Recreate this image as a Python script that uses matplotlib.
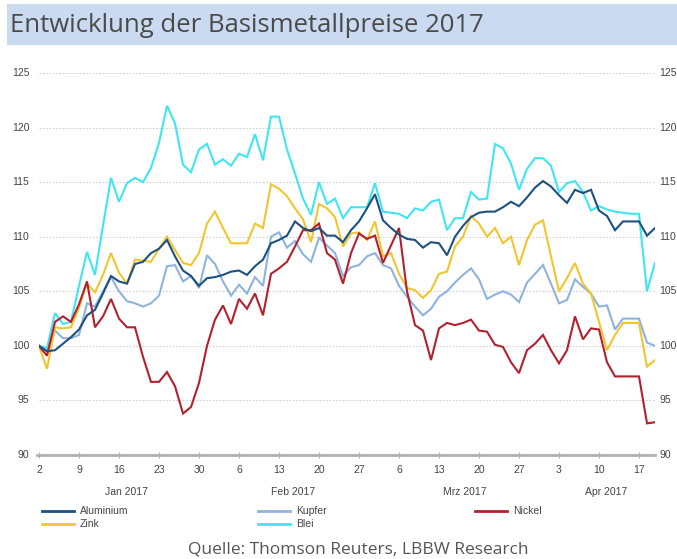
import matplotlib
matplotlib.use("Agg")
import matplotlib.pyplot as plt
from matplotlib.patches import Rectangle
from matplotlib.lines import Line2D
import matplotlib.transforms as mtransforms

# ---- data (index values, trading days from 2 Jan 2017) ----
aluminium = [100.0, 99.5, 99.6, 100.2, 100.8, 101.5, 102.8, 103.3, 104.8, 106.4,
             105.9, 105.7, 107.5, 107.7, 108.5, 108.9, 109.7, 108.2, 106.9, 106.4,
             105.5, 106.2, 106.3, 106.5, 106.8, 106.9, 106.5, 107.3, 107.9, 109.4,
             109.7, 110.1, 111.4, 110.8, 110.5, 110.8, 110.1, 110.1, 109.5, 110.6,
             111.4, 112.6, 113.9, 111.5, 110.8, 110.2, 109.8, 109.7, 109.0, 109.5,
             109.4, 108.3, 110.0, 111.0, 111.8, 112.2, 112.3, 112.3, 112.7, 113.2,
             112.8, 113.6, 114.5, 115.1, 114.6, 113.8, 113.1, 114.3, 114.0, 114.3,
             112.4, 111.9, 110.6, 111.4, 111.4, 111.4, 110.1, 110.8]
kupfer = [100.0, 99.6, 101.4, 100.7, 100.7, 101.0, 103.9, 103.6, 105.0, 106.3,
          105.0, 104.1, 103.9, 103.6, 103.9, 104.6, 107.3, 107.4, 105.9, 106.4,
          105.3, 108.3, 107.5, 105.9, 104.6, 105.6, 104.8, 106.3, 105.5, 110.0,
          110.4, 109.0, 109.6, 108.4, 107.7, 109.9, 109.2, 108.5, 106.4, 107.2,
          107.4, 108.2, 108.5, 107.4, 107.1, 105.5, 104.5, 103.6, 102.8, 103.4,
          104.5, 105.0, 105.8, 106.5, 107.1, 106.1, 104.3, 104.7, 105.0, 104.7,
          104.0, 105.8, 106.6, 107.4, 105.7, 103.9, 104.2, 106.1, 105.4, 104.8,
          103.6, 103.7, 101.5, 102.5, 102.5, 102.5, 100.3, 100.0]
nickel = [100.0, 99.1, 102.2, 102.7, 102.2, 103.8, 105.9, 101.7, 102.7, 104.3,
          102.5, 101.7, 101.7, 99.0, 96.7, 96.7, 97.6, 96.3, 93.8, 94.4,
          96.6, 100.0, 102.4, 103.7, 102.0, 104.3, 103.4, 104.8, 102.8, 106.6,
          107.1, 107.7, 109.1, 110.6, 110.6, 111.2, 108.5, 107.9, 105.7, 108.5,
          110.3, 109.8, 110.1, 107.6, 109.2, 110.8, 105.0, 101.9, 101.4, 98.7,
          101.6, 102.1, 101.9, 102.1, 102.4, 101.4, 101.3, 100.1, 99.9, 98.5,
          97.5, 99.6, 100.2, 101.0, 99.6, 98.4, 99.6, 102.7, 100.6, 101.6,
          101.5, 98.5, 97.2, 97.2, 97.2, 97.2, 92.9, 93.0]
zink = [100.0, 97.9, 101.7, 101.6, 101.7, 103.5, 105.7, 104.9, 106.5, 108.5,
        106.7, 105.7, 107.9, 107.8, 107.7, 108.9, 110.0, 108.8, 107.6, 107.4,
        108.5, 111.2, 112.3, 110.8, 109.4, 109.4, 109.4, 111.2, 110.8, 114.8,
        114.4, 113.7, 112.6, 111.6, 109.5, 113.0, 112.6, 111.8, 109.1, 110.3,
        110.4, 109.7, 111.4, 108.2, 108.5, 106.6, 105.3, 105.1, 104.4, 105.1,
        106.6, 106.8, 109.1, 110.0, 111.9, 111.2, 110.0, 110.8, 109.4, 110.0,
        107.4, 109.7, 111.1, 111.5, 108.2, 105.0, 106.2, 107.6, 105.7, 104.8,
        102.2, 99.6, 101.0, 102.1, 102.1, 102.1, 98.1, 98.7]
blei = [100.0, 99.8, 103.0, 102.0, 102.2, 105.5, 108.6, 106.5, 111.0, 115.4,
        113.2, 114.9, 115.4, 115.0, 116.3, 118.6, 122.0, 120.4, 116.6, 115.9,
        118.0, 118.5, 116.6, 117.1, 116.5, 117.6, 117.3, 119.4, 117.0, 121.0,
        121.0, 118.0, 115.8, 113.5, 112.0, 115.0, 113.0, 113.5, 111.7, 112.7,
        112.7, 112.7, 114.9, 112.3, 112.2, 112.1, 111.7, 112.6, 112.4, 113.2,
        113.4, 110.6, 111.7, 111.7, 114.1, 113.4, 113.5, 118.5, 118.1, 116.7,
        114.3, 116.2, 117.2, 117.2, 116.5, 114.1, 114.9, 115.1, 114.1, 112.4,
        112.8, 112.5, 112.3, 112.2, 112.1, 112.1, 105.0, 107.6]

tick_pos = [0, 5, 10, 15, 20, 25, 30, 35, 40, 45, 50, 55, 60, 65, 70, 75]
tick_labels = ["2", "9", "16", "23", "30", "6", "13", "20", "27",
               "6", "13", "20", "27", "3", "10", "17"]
month_labels = ["Jan 2017", "Feb 2017", "Mrz 2017", "Apr 2017"]
month_pos = [10.9, 31.75, 53.25, 70.9]
y_ticks = [90, 95, 100, 105, 110, 115, 120, 125]

series = [("Aluminium", aluminium, "#1c5180"),
          ("Zink", zink, "#f2c530"),
          ("Kupfer", kupfer, "#8fb3dc"),
          ("Blei", blei, "#3fe6f2"),
          ("Nickel", nickel, "#b3202f")]

W, H = 677, 559
fig = plt.figure(figsize=(W / 100, H / 100), dpi=100)
fig.patch.set_facecolor("white")

# title band
fig.patches.append(Rectangle((7 / W, 1 - 45 / H), 1, 41 / H, transform=fig.transFigure,
                             facecolor="#c9daf1", edgecolor="none", zorder=0))
fig.text(10 / W, 1 - 25 / H, "Entwicklung der Basismetallpreise 2017",
         fontsize=18.5, color="#4a4a4a", va="center", ha="left",
         family=["Open Sans", "DejaVu Sans"])

ax = fig.add_axes([39 / W, 1 - 455 / H, (655 - 39) / W, (455 - 73) / H])
ax.set_xlim(0, 77)
ax.set_ylim(90, 125)

xs = list(range(len(aluminium)))
draw_order = ["Blei", "Kupfer", "Zink", "Nickel", "Aluminium"]
for name in draw_order:
    for n, vals, col in series:
        if n == name:
            ax.plot(xs, vals, color=col, lw=1.5, solid_joinstyle="miter", zorder=3)

for s in ["left", "right", "top"]:
    ax.spines[s].set_visible(False)
ax.spines["bottom"].set_color("#b0b0b0")
ax.spines["bottom"].set_linewidth(2)
ax.spines["bottom"].set_bounds(-0.3, 77)

for yv in y_ticks[1:]:
    ax.axhline(yv, color="#d0d0d0", lw=0.8, ls=(0, (1.5, 1.5)), zorder=1)

lab_font = dict(fontsize=7.5, color="#444444",
                family=["Liberation Sans Narrow", "Liberation Sans", "DejaVu Sans"])

ax.set_yticks([])
ax.set_xticks(tick_pos)
ax.set_xticklabels(tick_labels, **lab_font)
ax.tick_params(axis="x", direction="inout", length=4, width=0.8, color="#b0b0b0", pad=5)

for yv in y_ticks:
    ax.text(-1.2, yv, str(yv), ha="right", va="center", **lab_font)
    ax.text(77.5, yv, str(yv), ha="left", va="center", clip_on=False, **lab_font)

trans_m = mtransforms.blended_transform_factory(ax.transData, fig.transFigure)
for lbl, p in zip(month_labels, month_pos):
    ax.text(p, 1 - 492 / H, lbl, transform=trans_m, ha="center", va="center", **lab_font)

# legend
leg_items = [("Aluminium", "#1c5180", 42, 511), ("Kupfer", "#8fb3dc", 258, 511),
             ("Nickel", "#b3202f", 475, 511), ("Zink", "#f2c530", 42, 524),
             ("Blei", "#3fe6f2", 258, 524)]
for name, col, lx, ly in leg_items:
    fig.lines.append(Line2D([lx / W, (lx + 32) / W], [1 - ly / H, 1 - ly / H],
                            transform=fig.transFigure, color=col, lw=2))
    fig.text((lx + 38) / W, 1 - ly / H, name, ha="left", va="center", **lab_font)

fig.text(358 / W, 1 - 549 / H, "Quelle: Thomson Reuters, LBBW Research",
         ha="center", va="center", fontsize=12.5, color="#555555",
         family=["Open Sans", "DejaVu Sans"])

fig.savefig("out.png", dpi=100)
